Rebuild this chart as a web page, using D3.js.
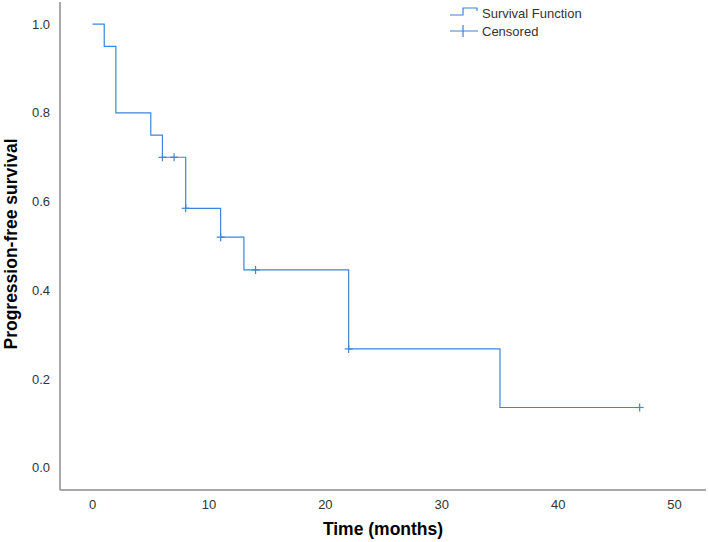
<!DOCTYPE html>
<html><head><meta charset="utf-8">
<script src="https://cdn.jsdelivr.net/npm/d3@7"></script>
<style>body{margin:0;background:#fff}svg{display:block}</style>
</head><body>
<script>
// Kaplan-Meier step data
const stepTimes = [0, 1, 2, 5, 6, 8, 11, 13, 22, 35];
const stepSurvival = [1.0, 0.95, 0.80, 0.75, 0.70, 0.585, 0.52, 0.446, 0.268, 0.136];
const endTime = 47;
const censorTimes = [6, 7, 8, 11, 14, 22, 47];
const xTicks = [0, 10, 20, 30, 40, 50];
const yTicks = [0.0, 0.2, 0.4, 0.6, 0.8, 1.0];
const legendLabels = ["Survival Function", "Censored"];

const W = 709, H = 542;
const color = "#3f84d8";
const svg = d3.select("body").append("svg").attr("width", W).attr("height", H);

const x = d3.scaleLinear().domain([-2.8, 52.7]).range([60, 706]);
const y = d3.scaleLinear().domain([-0.05, 1.05]).range([490, 2]);

function survAt(t) {
  let s = stepSurvival[0];
  for (let i = 0; i < stepTimes.length; i++) if (stepTimes[i] <= t) s = stepSurvival[i];
  return s;
}

// axes lines
svg.append("line").attr("x1", 60).attr("x2", 60).attr("y1", y.range()[1]).attr("y2", 490)
  .attr("stroke", "#8c8c8c").attr("stroke-width", 1.5);
svg.append("line").attr("x1", 60).attr("x2", x.range()[1]).attr("y1", 490).attr("y2", 490)
  .attr("stroke", "#8c8c8c").attr("stroke-width", 1.5);

// tick labels
svg.append("g").selectAll("text").data(yTicks).join("text")
  .attr("x", 50).attr("y", d => y(d)).attr("dy", "0.35em").attr("text-anchor", "end")
  .attr("font-family", "Liberation Sans, Arial, sans-serif").attr("font-size", 13).attr("fill", "#333")
  .text(d => d3.format(".1f")(d));
svg.append("g").selectAll("text").data(xTicks).join("text")
  .attr("x", d => x(d)).attr("y", 509).attr("text-anchor", "middle")
  .attr("font-family", "Liberation Sans, Arial, sans-serif").attr("font-size", 13).attr("fill", "#333")
  .text(d => d);

// axis titles
svg.append("text").attr("x", 383).attr("y", 535).attr("text-anchor", "middle")
  .attr("font-family", "Liberation Sans, Arial, sans-serif").attr("font-size", 17.5).attr("font-weight", "bold")
  .attr("fill", "#000").text("Time (months)");
svg.append("text").attr("transform", "translate(17,244) rotate(-90)").attr("text-anchor", "middle")
  .attr("font-family", "Liberation Sans, Arial, sans-serif").attr("font-size", 17.5).attr("font-weight", "bold")
  .attr("fill", "#000").text("Progression-free survival");

// step path
const pts = stepTimes.map((t, i) => [t, stepSurvival[i]]);
pts.push([endTime, stepSurvival[stepSurvival.length - 1]]);
const line = d3.line().x(d => x(d[0])).y(d => y(d[1])).curve(d3.curveStepAfter);
svg.append("path").attr("d", line(pts)).attr("fill", "none").attr("stroke", color).attr("stroke-width", 1.2);

// censor marks
const cg = svg.append("g").attr("stroke", color).attr("stroke-width", 1.2);
censorTimes.forEach(t => {
  const cx = x(t), cy = y(survAt(t));
  cg.append("line").attr("x1", cx - 4).attr("x2", cx + 4).attr("y1", cy).attr("y2", cy);
  cg.append("line").attr("x1", cx).attr("x2", cx).attr("y1", cy - 4).attr("y2", cy + 4);
});

// legend
const lg = svg.append("g");
lg.append("path").attr("d", "M450,15 H463 V8 H477 V11").attr("fill", "none").attr("stroke", color).attr("stroke-width", 1.2);
lg.append("path").attr("d", "M450,31 H478 M463,25 V37").attr("fill", "none").attr("stroke", color).attr("stroke-width", 1.2);
lg.selectAll("text").data(legendLabels).join("text")
  .attr("x", 482).attr("y", (d, i) => 13 + i * 18).attr("dy", "0.35em")
  .attr("font-family", "Liberation Sans, Arial, sans-serif").attr("font-size", 13).attr("fill", "#333")
  .text(d => d);
</script>
</body></html>
